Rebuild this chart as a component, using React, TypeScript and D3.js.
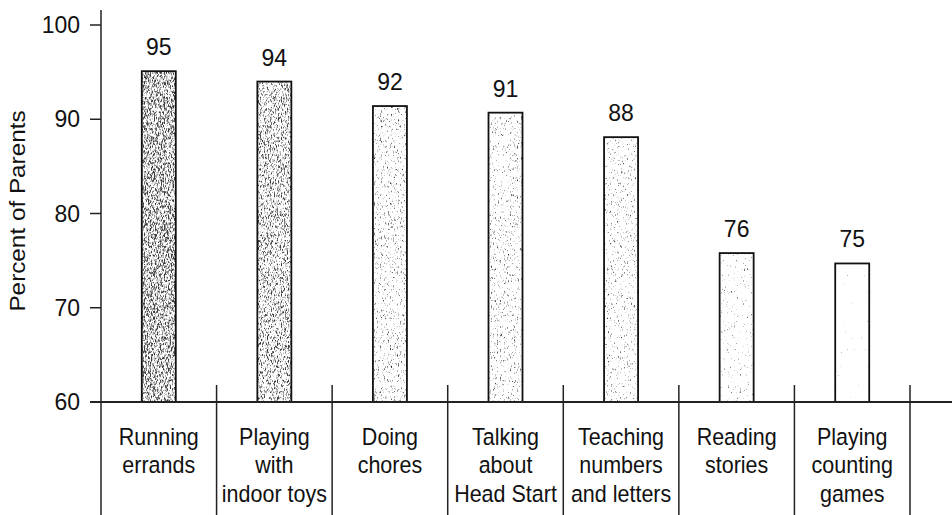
import * as d3 from 'd3'

// activities parents did with their child (percent of parents)
const categories = [
  ['Running', 'errands'],
  ['Playing', 'with', 'indoor toys'],
  ['Doing', 'chores'],
  ['Talking', 'about', 'Head Start'],
  ['Teaching', 'numbers', 'and letters'],
  ['Reading', 'stories'],
  ['Playing', 'counting', 'games'],
]
const values = [95.1, 94.0, 91.4, 90.7, 88.1, 75.8, 74.7]
const valueLabels = ['95', '94', '92', '91', '88', '76', '75']
const yTicks = [60, 70, 80, 90, 100]
const axisTitle = 'Percent of Parents'

// speckle density per bar (scanned stipple look), darker first
const tones = [0.44, 0.49, 0.6, 0.61, 0.62, 0.68, 0.78]

const W = 952
const H = 515
const font = '"Liberation Sans", Arial, sans-serif'
const sy = 1.08 // scan is a bit taller than wide

export default function App() {
  const left = 101
  const right = 910
  const base = 402

  const y = d3.scaleLinear().domain([60, 100]).range([base, 25])
  const x = d3.scaleBand<number>()
    .domain(d3.range(categories.length))
    .range([left, right])
    .padding(0)
  const step = x.step()
  const barW = 34
  const cx = (i: number) => (x(i) as number) + step / 2

  const seps = d3.range(categories.length + 1).map(i => left + i * step)

  return (
    <svg width={W} height={H} style={{ position: 'absolute', left: 0, top: 0, background: '#fff' }}
      fontFamily={font}>
      <defs>
        {tones.map((t, i) => (
          <filter key={i} id={`grain${i}`} x="0" y="0" width="1" height="1"
            filterUnits="objectBoundingBox" colorInterpolationFilters="sRGB">
            <feTurbulence type="fractalNoise" baseFrequency="1.3 0.35" numOctaves={3} seed={i + 3} result="n" />
            <feColorMatrix in="n" type="matrix"
              values={`0 0 0 0 0.1  0 0 0 0 0.1  0 0 0 0 0.1  -4 0 0 0 ${4 * (1 - t)}`} result="a" />
            <feComponentTransfer in="a">
              <feFuncA type="linear" slope={0.85} intercept={0} />
            </feComponentTransfer>
          </filter>
        ))}
      </defs>

      {/* bars */}
      {values.map((v, i) => (
        <g key={i}>
          <rect x={cx(i) - barW / 2} y={y(v)} width={barW} height={base - y(v)} fill="#fff" />
          <rect x={cx(i) - barW / 2} y={y(v)} width={barW} height={base - y(v)}
            fill="#fff" filter={`url(#grain${i})`} />
          <rect x={cx(i) - barW / 2} y={y(v)} width={barW} height={base - y(v)}
            fill="none" stroke="#111" strokeWidth={1.8} />
          <text transform={`translate(${cx(i)},${y(v) - 16}) scale(1,${sy})`}
            textAnchor="middle" fontSize={23} fill="#111">
            {valueLabels[i]}
          </text>
        </g>
      ))}

      {/* y axis */}
      <line x1={left} x2={left} y1={10} y2={H} stroke="#222" strokeWidth={1.5} />
      {yTicks.map(t => (
        <g key={t}>
          <line x1={90} x2={left} y1={y(t)} y2={y(t)} stroke="#222" strokeWidth={1.5} />
          <text transform={`translate(80,${y(t) + 8}) scale(1,${sy})`}
            textAnchor="end" fontSize={23} fill="#111">{t}</text>
        </g>
      ))}
      <text transform={`translate(25,211) rotate(-90) scale(${sy},1)`} textAnchor="middle"
        fontSize={22.5} fill="#111">
        {axisTitle}
      </text>

      {/* baseline and category separators */}
      <line x1={90} x2={W} y1={base} y2={base} stroke="#222" strokeWidth={1.8} />
      {seps.slice(1).map((s, i) => (
        <line key={i} x1={s} x2={s} y1={385} y2={H} stroke="#222" strokeWidth={1.5} />
      ))}

      {/* category labels */}
      {categories.map((lines, i) => (
        <text key={i} transform={`translate(${cx(i)},445) scale(1,${sy})`}
          textAnchor="middle" fontSize={21.5} fill="#111">
          {lines.map((l, j) => (
            <tspan key={j} x={0} y={(j * 28.5) / sy}>{l}</tspan>
          ))}
        </text>
      ))}
    </svg>
  )
}
